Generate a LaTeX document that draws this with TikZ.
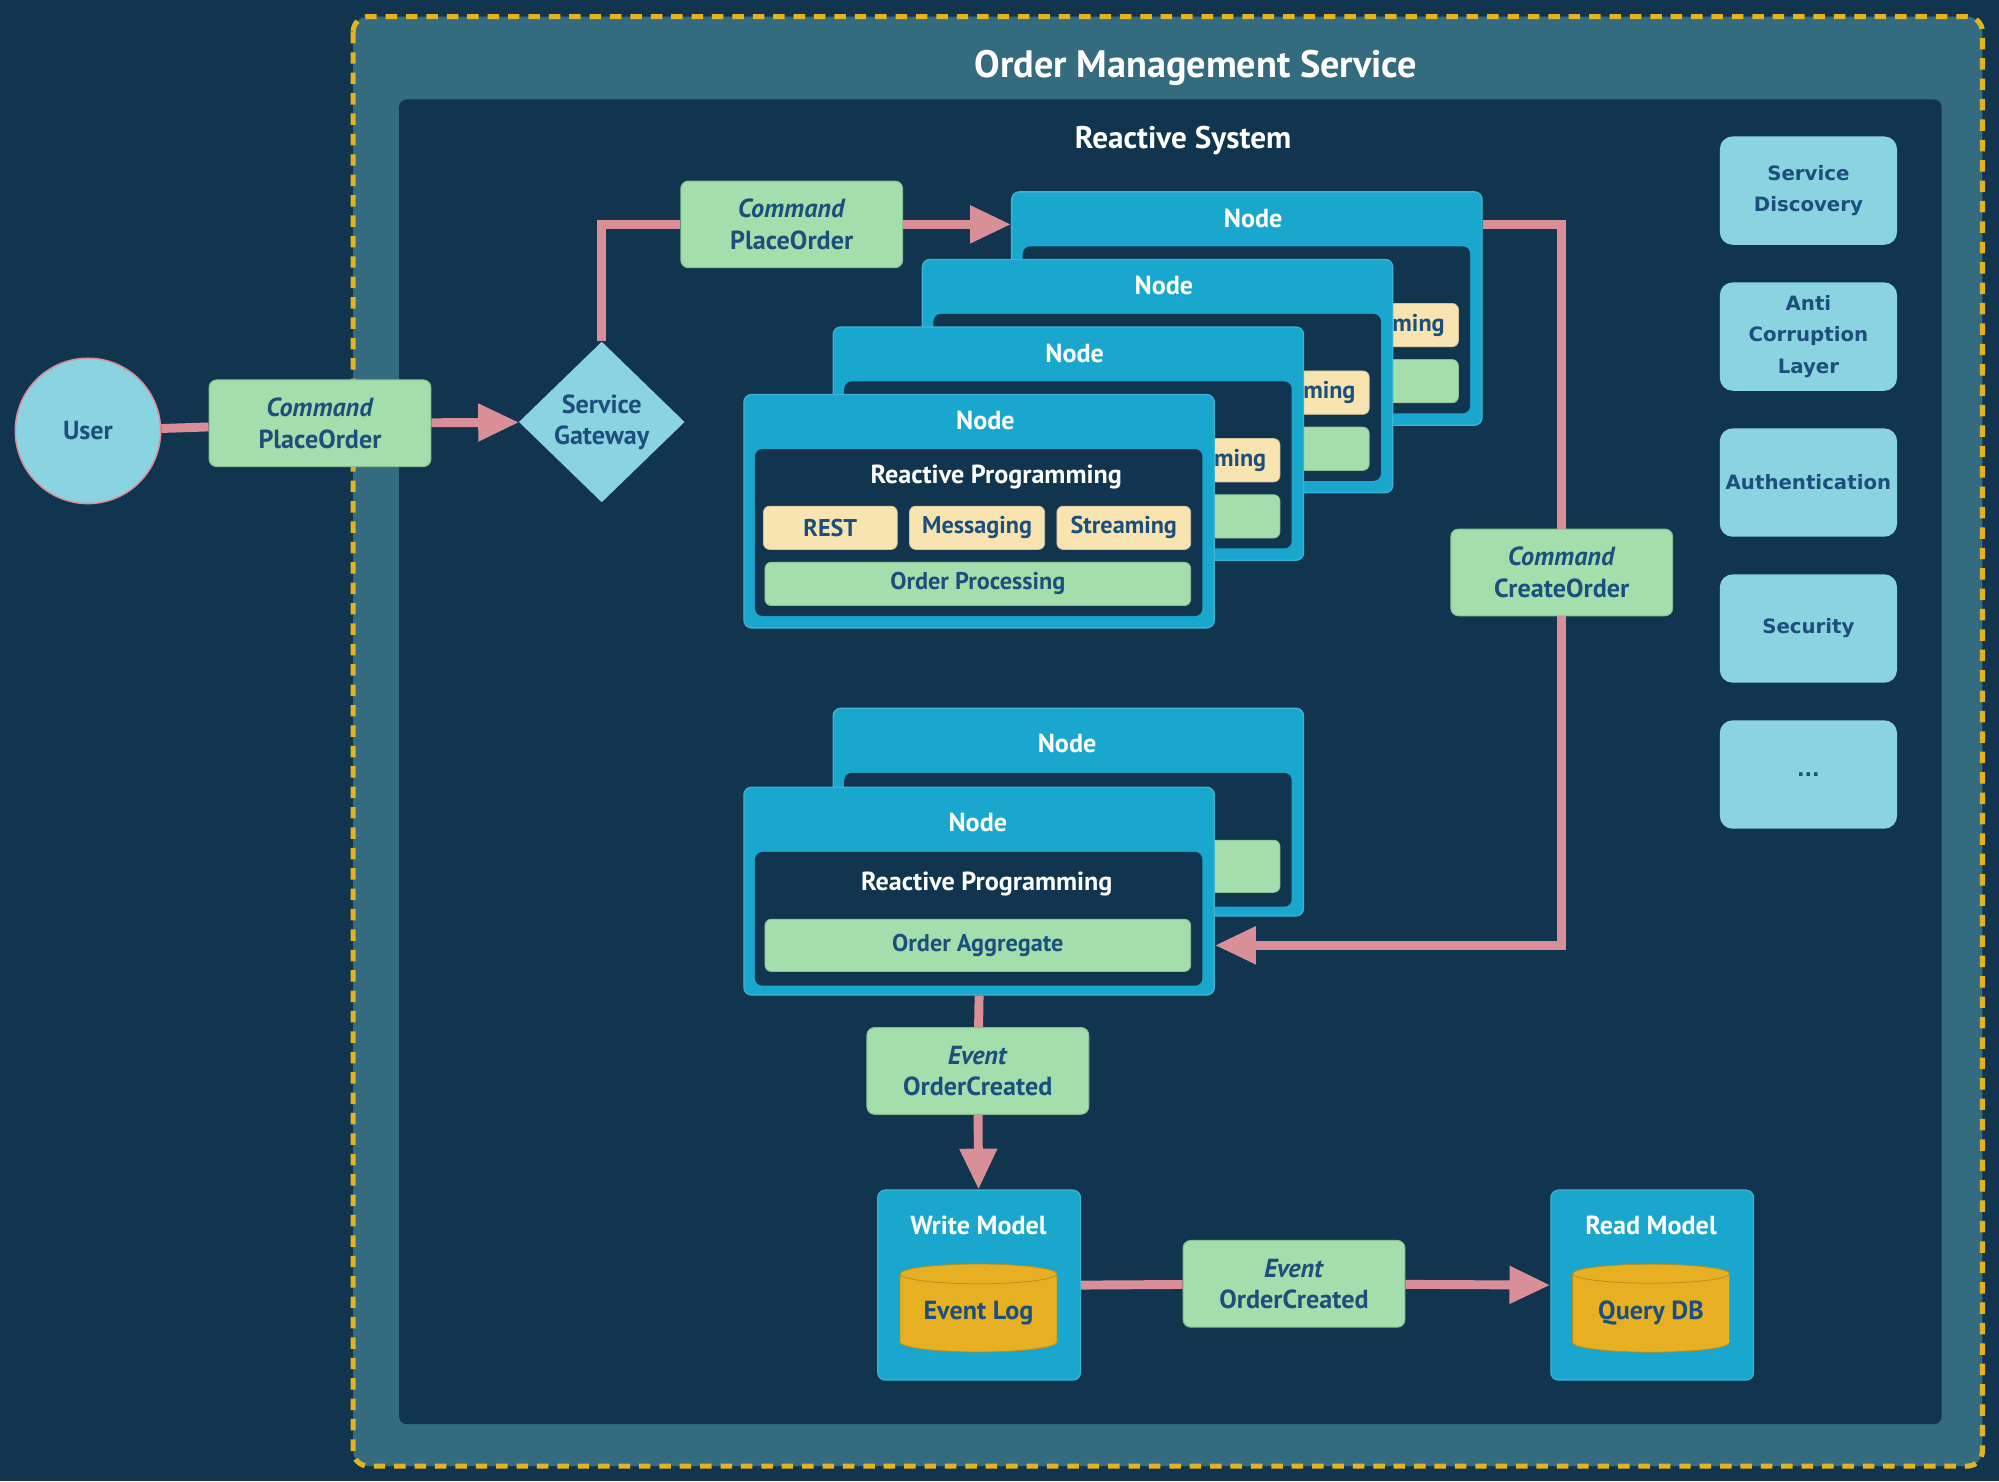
\documentclass[tikz,border=0pt]{standalone}
\usepackage{fontspec}
\setmainfont{PT Sans}
\newfontfamily\sidefont{DejaVu Sans}
\usetikzlibrary{arrows.meta,shapes.geometric,positioning}

\definecolor{bgnavy}{HTML}{12354F}
\definecolor{svcteal}{HTML}{356B7E}
\definecolor{dashgold}{HTML}{E5B321}
\definecolor{nodeblue}{HTML}{19A7CE}
\definecolor{cmdgreen}{HTML}{A3DEAC}
\definecolor{protocream}{HTML}{F8E4B0}
\definecolor{lightblue}{HTML}{8AD3E0}
\definecolor{linkpink}{HTML}{D88F98}
\definecolor{txtblue}{HTML}{1C4F7C}
\definecolor{dbgold}{HTML}{E6B022}

\tikzset{
  conn/.style={line width=7pt, draw=linkpink},
  arr/.style={conn, -{Triangle[length=32pt,width=28pt]}},
  lbl/.style={font=\bfseries\fontsize{20.5}{24.5}\selectfont, inner sep=0pt, align=center},
  titletxt/.style={lbl, text=white},
  msgbox/.style={lbl, text=txtblue, rounded corners=6pt, fill=cmdgreen, draw=cmdgreen!85!black, line width=0.8pt, minimum width=174pt, minimum height=68pt},
  nodebox/.style={anchor=north west, rounded corners=6pt, fill=nodeblue, draw=nodeblue!85!white, line width=1pt, minimum width=369pt},
  innerbox/.style={anchor=north west, rounded corners=6pt, fill=bgnavy, minimum width=351pt},
  protobox/.style={lbl, text=txtblue, font=\bfseries\fontsize{19}{22}\selectfont, rounded corners=5pt, fill=protocream, draw=protocream!85!black, line width=0.6pt, minimum width=105pt, minimum height=34pt},
  logicbox/.style={protobox, fill=cmdgreen, draw=cmdgreen!85!black, minimum width=334pt},
  svcbox/.style={lbl, text=txtblue, font=\sidefont\bfseries\fontsize{15.5}{24.5}\selectfont, rounded corners=10pt, fill=lightblue, minimum width=139pt, minimum height=85pt},
  modelbox/.style={anchor=north west, rounded corners=6pt, fill=nodeblue, draw=nodeblue!85!white, line width=1pt, minimum width=159pt, minimum height=149pt},
  db/.style={lbl, text=txtblue, cylinder, shape border rotate=90, aspect=0.18, minimum width=123pt, minimum height=69pt, fill=dbgold, draw=dbgold!80!black, line width=0.6pt}
}

% node card: frame, title, inner panel, streaming box, logic box (#4)
\newcommand{\procnode}[4]{%
  \node[nodebox, minimum height=183pt] (#1) at (#2,#3) {};
  \node[titletxt] (#1t) at (#2+190,#3+21) {Node};
  \node[innerbox, minimum height=131pt] (#1i) at (#2+9,#3+43) {};
  \node[protobox] (#1str) at (#2+298.5,#3+105) {Streaming};
  \node[logicbox] (#1op) at (#2+184,#3+149) {#4};
}
\newcommand{\aggnode}[4]{%
  \node[nodebox, minimum height=163pt] (#1) at (#2,#3) {};
  \node[titletxt] (#1t) at (#2+184,#3+28) {Node};
  \node[innerbox, minimum height=105pt] (#1i) at (#2+9,#3+51) {};
  \node[logicbox, minimum height=41pt] (#1agg) at (#2+184,#3+124.5) {#4};
}

\begin{document}
\begin{tikzpicture}[x=1pt, y=-1pt]
  \useasboundingbox (0,0) rectangle (1568,1162);
  \fill[bgnavy] (0,0) rectangle (1568,1162);

  % service and reactive system frames
  \draw[fill=svcteal, draw=dashgold, line width=4pt, dash pattern=on 9pt off 7pt, rounded corners=12pt] (277,13) rectangle (1555,1150);
  \fill[bgnavy, rounded corners=6pt] (313,78) rectangle (1523,1117);
  \node[titletxt, font=\bfseries\fontsize{30}{34}\selectfont] (oms) at (938,53) {Order Management Service};
  \node[titletxt, font=\bfseries\fontsize{24.5}{28}\selectfont] (rs) at (928,110) {Reactive System};

  % user side
  \node[lbl, text=txtblue, circle, fill=lightblue, draw=linkpink, line width=1.2pt, minimum size=114pt] (user) at (69,338) {User};
  \node[msgbox] (cmdone) at (251,332) {\textit{Command}\\PlaceOrder};
  \node[lbl, text=txtblue, diamond, aspect=1, fill=lightblue, minimum width=130pt, minimum height=126pt] (gw) at (472,331) {Service\\Gateway};
  \node[msgbox] (cmdtwo) at (621,176) {\textit{Command}\\PlaceOrder};

  % processing nodes
  \procnode{pa}{793}{150}{}
  \procnode{pb}{723}{203}{}
  \procnode{pc}{653}{256}{}
  \procnode{pd}{583}{309}{Order Processing}
  \node[protobox, minimum width=106pt, left=9pt of pdstr] (pdmsg) {Messaging};
  \node[protobox, left=9pt of pdmsg] (pdrest) {REST};
  \node[titletxt, above=13pt of pdmsg.north, xshift=15pt] (pdrp) {Reactive Programming};
  \node[msgbox] (cmdthree) at (1225,449) {\textit{Command}\\CreateOrder};

  % aggregate nodes
  \aggnode{ga}{653}{555}{}
  \aggnode{gb}{583}{617}{Order Aggregate}
  \node[titletxt] (gbrp) at (774,693) {Reactive Programming};
  \node[msgbox] (evtone) at (767,840) {\textit{Event}\\OrderCreated};

  % models
  \node[modelbox] (wm) at (688,933) {};
  \node[titletxt] (wmt) at (767.5,961) {Write Model};
  \node[db] (wmdb) at (767.5,1030) {Event Log};
  \node[msgbox] (evttwo) at (1015,1007) {\textit{Event}\\OrderCreated};
  \node[modelbox] (rm) at (1216,933) {};
  \node[titletxt] (rmt) at (1295,961) {Read Model};
  \node[db] (rmdb) at (1295,1030) {Query DB};

  % cross-cutting services
  \node[svcbox] (sd) at (1418.5,149.5) {Service\\Discovery};
  \node[svcbox] (acl) at (1418.5,264) {Anti\\Corruption\\Layer};
  \node[svcbox] (auth) at (1418.5,378.5) {Authentication};
  \node[svcbox] (sec) at (1418.5,493) {Security};
  \node[svcbox] (more) at (1418.5,607.5) {...};

  % connectors
  \draw[conn] (user) -- (cmdone);
  \draw[arr] (cmdone) -- (gw);
  \draw[conn] (gw.north) |- (cmdtwo.west);
  \draw[arr] (cmdtwo) -- (cmdtwo -| pa.west);
  \draw[conn] (pa.east |- cmdtwo) -| (cmdthree.north);
  \draw[arr] (cmdthree.south) |- (gbagg -| gb.east);
  \draw[conn] (gb.south) -- (evtone);
  \draw[arr] (evtone) -- (wm);
  \draw[conn] (wm.east) -- (evttwo);
  \draw[arr] (evttwo) -- (rm.west);
\end{tikzpicture}
\end{document}
